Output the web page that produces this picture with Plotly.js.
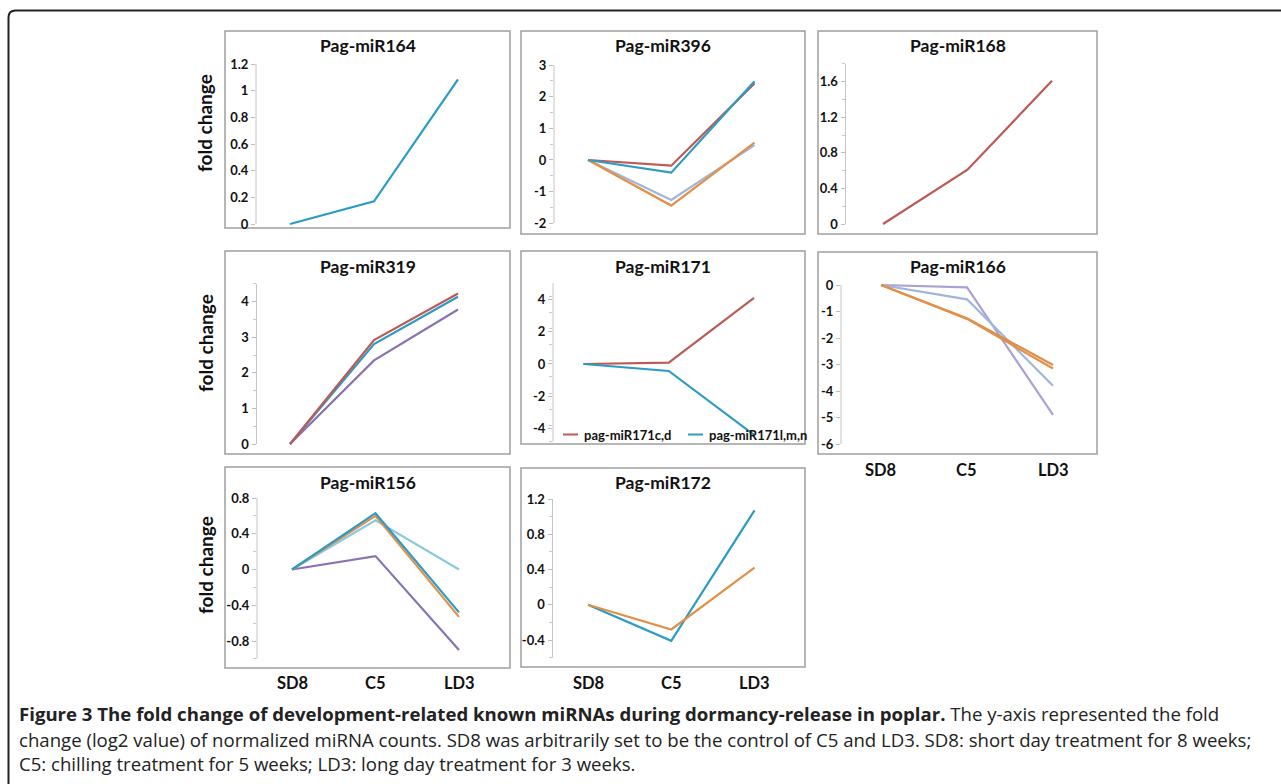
<!DOCTYPE html>
<html><head><meta charset="utf-8">
<script src="https://cdn.plot.ly/plotly-3.0.1.min.js"></script>
<style>html,body{margin:0;padding:0;background:#fff;}#chart{width:1281px;height:784px;}</style>
</head><body><div id="chart"></div>
<script>
// ---------------- DATA ----------------
const stages = ['SD8', 'C5', 'LD3'];
const titles = ['Pag-miR164', 'Pag-miR396', 'Pag-miR168', 'Pag-miR319', 'Pag-miR171', 'Pag-miR166', 'Pag-miR156', 'Pag-miR172'];
const yLabel = 'fold change';

const miR164 = [0, 0.17, 1.085];

const miR396_a = [0, -0.18, 2.42];
const miR396_b = [0, -0.40, 2.49];
const miR396_c = [0, -1.44, 0.55];
const miR396_d = [0, -1.26, 0.47];

const miR168 = [0, 0.61, 1.61];

const miR319_a = [0, 2.92, 4.23];
const miR319_b = [0, 2.81, 4.14];
const miR319_c = [0, 2.35, 3.78];

const miR171_cd = [0, 0.08, 4.09];
const miR171_lmn = [0, -0.43, -4.38];
const legend171 = ['pag-miR171c,d', 'pag-miR171l,m,n'];

const miR166_a = [0, -1.28, -3.15];
const miR166_b = [0, -1.25, -3.02];
const miR166_c = [0, -0.54, -3.80];
const miR166_d = [0, -0.09, -4.90];

const miR156_a = [0, 0.63, -0.48];
const miR156_b = [0, 0.60, -0.53];
const miR156_c = [0, 0.55, 0.00];
const miR156_d = [0, 0.15, -0.90];

const miR172_a = [0, -0.41, 1.07];
const miR172_b = [0, -0.28, 0.42];

const ticks164 = [0, 0.2, 0.4, 0.6, 0.8, 1, 1.2];
const ticks396 = [-2, -1, 0, 1, 2, 3];
const ticks168 = [0, 0.4, 0.8, 1.2, 1.6];
const ticks319 = [0, 1, 2, 3, 4];
const ticks171 = [-4, -2, 0, 2, 4];
const ticks166 = [-6, -5, -4, -3, -2, -1, 0];
const ticks156 = [-0.8, -0.4, 0, 0.4, 0.8];
const ticks172 = [-0.4, 0, 0.4, 0.8, 1.2];

const captionBold = 'Figure 3 The fold change of development-related known miRNAs during dormancy-release in poplar.';
const caption1 = ' The y-axis represented the fold';
const caption2 = 'change (log2 value) of normalized miRNA counts. SD8 was arbitrarily set to be the control of C5 and LD3. SD8: short day treatment for 8 weeks;';
const caption3 = 'C5: chilling treatment for 5 weeks; LD3: long day treatment for 3 weeks.';

// ---------------- STYLE / LAYOUT ----------------
const W = 1281, H = 784;
const fx = p => p / W, fy = p => 1 - p / H;
const FONT = 'Lato, "Open Sans", sans-serif';
const C = {teal: '#2C9BC6', red: '#BC5B55', orange: '#E48F47', lblue: '#9DB6DA', lav: '#A9A3D3',
           purple: '#8773B3', cyan: '#8DC9DE', tan: '#D9904F'};

const panels = [
  {frame: [225, 31, 510, 228], ty: 45, ax: 256, p0: 290, p2: 458, cal: [[0, 224], [1.2, 64]], axis: [0, 1.2], ticks: ticks164, minorStep: 0,
   series: [[miR164, C.teal]]},
  {frame: [521, 31, 805, 234], ty: 45, ax: 554, p0: 588, p2: 754.5, cal: [[-2, 223.3], [3, 65]], axis: [-2, 3], ticks: ticks396, minorStep: 0.5,
   series: [[miR396_a, C.red], [miR396_d, C.lblue], [miR396_c, C.orange], [miR396_b, C.teal]]},
  {frame: [818, 31, 1097, 234], ty: 45, ax: 845.5, p0: 883, p2: 1052, cal: [[0, 224], [1.6, 81.7]], axis: [0, 1.8], ticks: ticks168, minorStep: 0.2,
   series: [[miR168, C.red]]},
  {frame: [225, 251, 510, 454], ty: 266, ax: 256.5, p0: 290, p2: 458, cal: [[0, 444], [4, 301.7]], axis: [0, 4.5], ticks: ticks319, minorStep: 0.5,
   series: [[miR319_c, C.purple], [miR319_b, C.teal], [miR319_a, C.red]]},
  {frame: [521, 251, 805, 444], ty: 266, ax: 553, p0: 583.5, p2: 754, cal: [[0, 364], [4, 299.3]], axis: [-4.8, 5], ticks: ticks171, minorStep: 1,
   series: [[miR171_cd, C.red], [miR171_lmn, C.teal]]},
  {frame: [818, 252, 1097, 454], ty: 266, ax: 841, p0: 881, p2: 1053, cal: [[0, 285], [-6, 444]], axis: [-6, 0], ticks: ticks166, minorStep: 0,
   series: [[miR166_d, C.lav], [miR166_c, C.lblue], [miR166_b, C.tan], [miR166_a, C.orange]], xlab: 470},
  {frame: [225, 467, 510, 668], ty: 482, ax: 257, p0: 292, p2: 459, cal: [[-0.8, 641], [0.8, 498]], axis: [-1, 0.8], ticks: ticks156, minorStep: 0.2,
   series: [[miR156_d, C.purple], [miR156_c, C.cyan], [miR156_b, C.orange], [miR156_a, C.teal]], xlab: 683},
  {frame: [521, 468, 805, 667], ty: 482, ax: 552.5, p0: 588, p2: 754.5, cal: [[-0.4, 640], [1.2, 499]], axis: [-0.6, 1.2], ticks: ticks172, minorStep: 0.2,
   series: [[miR172_a, C.teal], [miR172_b, C.orange]], xlab: 683}
];

const traces = [], shapes = [], annotations = [];
const layout = {
  width: W, height: H, margin: {l: 0, r: 0, t: 0, b: 0}, paper_bgcolor: '#fff', plot_bgcolor: 'rgba(0,0,0,0)',
  showlegend: false, font: {family: FONT, color: '#1a1a1a'}
};

panels.forEach((P, i) => {
  const s = i === 0 ? '' : String(i + 1);
  const xr = P.frame[2] - 10;
  const sp = (P.p2 - P.p0) / 2;
  const [[vA, pyA], [vB, pyB]] = P.cal;
  const k = (pyA - pyB) / (vB - vA);
  const topPx = pyA - (P.axis[1] - vA) * k;
  const botPx = pyA + (vA - P.axis[0]) * k;
  const pad = 6;
  const minorVals = [];
  if (P.minorStep) {
    for (let v = P.axis[0]; v <= P.axis[1] + 1e-9; v += P.minorStep) {
      const r = Math.round(v * 1000) / 1000;
      if (!P.ticks.some(t => Math.abs(t - r) < 1e-6)) minorVals.push(r);
    }
  }
  layout['xaxis' + s] = {
    domain: [fx(P.ax), fx(xr)], range: [-(P.p0 - P.ax) / sp, 2 + (xr - P.p2) / sp],
    type: 'category', anchor: 'y' + s, showgrid: false, zeroline: false, showline: false,
    showticklabels: false, ticks: '', fixedrange: true
  };
  layout['yaxis' + s] = {
    domain: [fy(botPx + pad), fy(topPx - pad)], range: [P.axis[0] - pad / k, P.axis[1] + pad / k],
    anchor: 'x' + s, showgrid: false, zeroline: false, showline: false,
    tickmode: 'array', tickvals: P.ticks, ticktext: P.ticks.map(v => '<b>' + String(v) + '</b>'),
    ticks: 'outside', ticklen: 4, tickwidth: 1, tickcolor: '#bdbdbd',
    tickfont: {family: FONT, size: 13, color: '#111'},
    minor: {tickmode: 'array', tickvals: minorVals, ticks: minorVals.length ? 'outside' : '', ticklen: 3, tickcolor: '#c8c8c8', showgrid: false},
    fixedrange: true
  };
  P.series.forEach(([vals, col]) => {
    traces.push({type: 'scatter', mode: 'lines', x: stages, y: vals, xaxis: 'x' + s, yaxis: 'y' + s,
      line: {color: col, width: 2.2}, hoverinfo: 'skip'});
  });
  shapes.push({type: 'rect', xref: 'paper', yref: 'paper', x0: fx(P.frame[0]), x1: fx(P.frame[2]), y0: fy(P.frame[3]), y1: fy(P.frame[1]),
    line: {color: '#9e9e9e', width: 1.5}, fillcolor: 'rgba(0,0,0,0)', layer: 'below'});
  shapes.push({type: 'line', xref: 'x' + s + ' domain', yref: 'y' + s, x0: 0, x1: 0, y0: P.axis[0], y1: P.axis[1],
    line: {color: '#c4c4c4', width: 1}});
  annotations.push({text: '<b>' + titles[i] + '</b>', xref: 'paper', yref: 'paper', x: fx((P.frame[0] + P.frame[2]) / 2), y: fy(P.ty),
    xanchor: 'center', yanchor: 'middle', showarrow: false, font: {family: FONT, size: 17.5, color: '#111'}});
  if (P.xlab) {
    stages.forEach(st => annotations.push({text: '<b>' + st + '</b>', xref: 'x' + s, yref: 'paper', x: st, y: fy(P.xlab),
      xanchor: 'center', yanchor: 'middle', showarrow: false, font: {family: FONT, size: 16.5, color: '#111'}}));
  }
});

[123, 343, 565].forEach(cy => annotations.push({text: '<b>' + yLabel + '</b>', xref: 'paper', yref: 'paper', x: fx(205), y: fy(cy),
  textangle: -90, xanchor: 'center', yanchor: 'middle', showarrow: false, font: {family: FONT, size: 19, color: '#111'}}));

[[563, 578, 582, legend171[0], C.red], [688, 703, 707, legend171[1], C.teal]].forEach(([a, b, t, name, col]) => {
  shapes.push({type: 'line', xref: 'paper', yref: 'paper', x0: fx(a), x1: fx(b), y0: fy(434.5), y1: fy(434.5), line: {color: col, width: 2}});
  annotations.push({text: '<b>' + name + '</b>', xref: 'paper', yref: 'paper', x: fx(t), y: fy(434.5), xanchor: 'left', yanchor: 'middle',
    showarrow: false, font: {family: FONT, size: 13, color: '#111'}});
});

const bx = 8.5, by = 10.5, rr = 7;
shapes.push({type: 'path', xref: 'paper', yref: 'paper',
  path: `M ${fx(bx)},${fy(784)} L ${fx(bx)},${fy(by + rr)} Q ${fx(bx)},${fy(by)} ${fx(bx + rr)},${fy(by)} L ${fx(1281)},${fy(by)}`,
  line: {color: '#222', width: 2}});

const CAPF = '"Open Sans", sans-serif';
const ctx = document.createElement('canvas').getContext('2d');
ctx.font = '16px "Open Sans"';
const capSize = 16 * 1233 / ctx.measureText(caption2).width;
[[713, '<b>' + captionBold + '</b>' + caption1], [739, caption2], [763, caption3]].forEach(([cy, txt]) => {
  annotations.push({text: txt, xref: 'paper', yref: 'paper', x: fx(17), y: fy(cy), xanchor: 'left', yanchor: 'middle',
    showarrow: false, font: {family: CAPF, size: capSize, color: '#222'}});
});

layout.shapes = shapes;
layout.annotations = annotations;
Plotly.newPlot('chart', traces, layout, {staticPlot: true, displayModeBar: false});
</script></body></html>
